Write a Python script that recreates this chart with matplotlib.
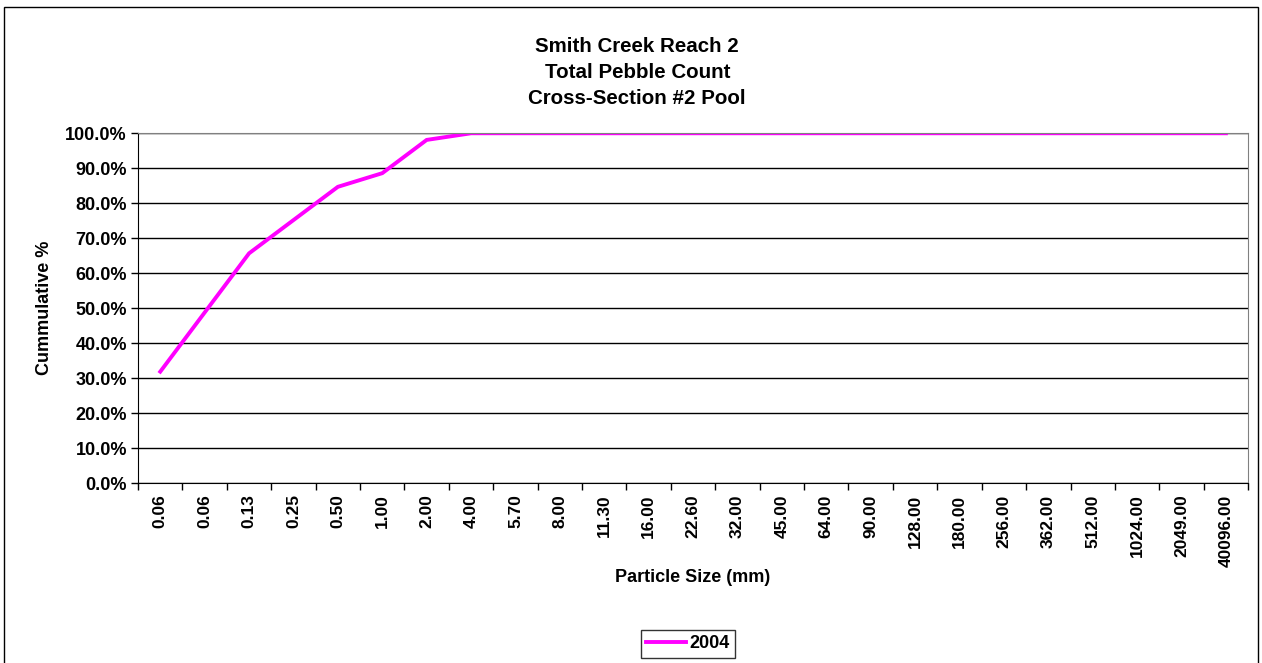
import matplotlib.pyplot as plt
import numpy as np
from matplotlib.patches import Rectangle
from matplotlib.ticker import FixedLocator

# Particle size classes (mm) and cumulative percent finer
sizes = ["0.06", "0.06", "0.13", "0.25", "0.50", "1.00", "2.00", "4.00", "5.70",
         "8.00", "11.30", "16.00", "22.60", "32.00", "45.00", "64.00", "90.00",
         "128.00", "180.00", "256.00", "362.00", "512.00", "1024.00", "2049.00",
         "40096.00"]
cum_2004 = [31.9, 48.8, 65.7, 75.2, 84.7, 88.6, 98.1, 100, 100, 100, 100, 100, 100,
            100, 100, 100, 100, 100, 100, 100, 100, 100, 100, 100, 100]

plt.rcParams["font.family"] = ["Liberation Sans", "DejaVu Sans"]
plt.rcParams["font.weight"] = "bold"

fig = plt.figure(figsize=(12.62, 6.63), dpi=100)
ax = fig.add_axes([0.1094, 0.271, 0.8796, 0.528])

x = np.arange(len(sizes))
ax.plot(x, cum_2004, color="#ff00ff", lw=2.8, label="2004", solid_joinstyle="miter")

ax.set_xlim(-0.5, len(sizes) - 0.5)
ax.set_ylim(0, 100)
ax.set_yticks(np.arange(0, 101, 10))
ax.set_yticklabels([f"{v:.1f}%" for v in np.arange(0, 101, 10)], fontsize=13, fontweight="bold")
ax.yaxis.grid(True, color="black", lw=1)
ax.set_axisbelow(True)

ax.set_xticks(x)
ax.set_xticklabels(sizes, rotation=90, fontsize=12.5, fontweight="bold", va="top")
ax.xaxis.set_minor_locator(FixedLocator(np.arange(-0.5, len(sizes), 1)))
ax.tick_params(axis="x", which="major", length=0, pad=8)
ax.tick_params(axis="x", which="minor", length=5, direction="out", width=1)
ax.tick_params(axis="y", length=5, direction="out", width=1, pad=3)

for s in ["top", "right"]:
    ax.spines[s].set_color("#808080")
for s in ["left", "bottom"]:
    ax.spines[s].set_color("black")

ax.set_ylabel("Cummulative %", fontsize=13, fontweight="bold", labelpad=9)
ax.set_xlabel("Particle Size (mm)", fontsize=13, fontweight="bold", labelpad=2)

fig.text(0.505, 0.89, "Smith Creek Reach 2\nTotal Pebble Count\nCross-Section #2 Pool",
         ha="center", va="center", fontsize=14.8, fontweight="bold", linespacing=1.47)

leg = fig.legend(loc="center", bbox_to_anchor=(0.545, 0.029), frameon=True, fancybox=False,
                 edgecolor="black", fontsize=13, handlelength=2.2, borderpad=0.3,
                 handletextpad=0.2, borderaxespad=0)
leg.get_frame().set_linewidth(1)

fig.patches.append(Rectangle((0.003, -0.01), 0.994, 1.0, transform=fig.transFigure,
                             fill=False, edgecolor="black", lw=1))

fig.savefig("out.png", dpi=100)
